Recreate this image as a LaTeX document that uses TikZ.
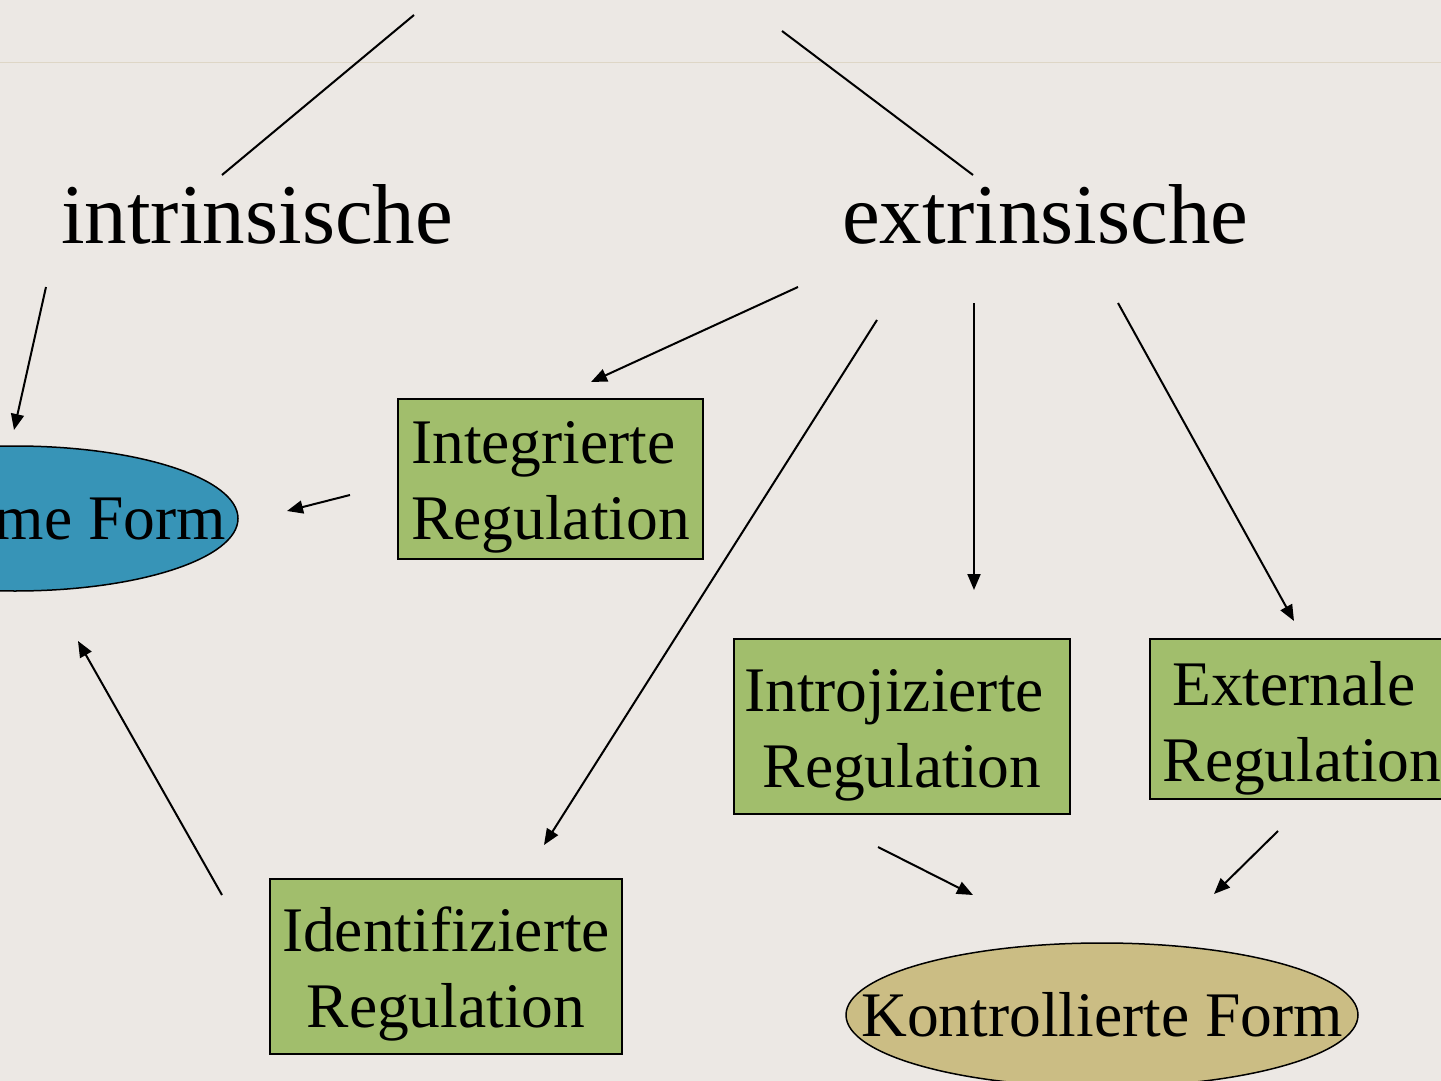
\documentclass[tikz,border=0pt]{standalone}
\usepackage{fontspec}
\setmainfont{Liberation Serif}
\usetikzlibrary{shapes.geometric,arrows.meta}
\definecolor{bgc}{RGB}{236,232,228}
\definecolor{rulec}{RGB}{222,214,198}
\definecolor{greenc}{RGB}{161,190,108}
\definecolor{bluec}{RGB}{55,148,183}
\definecolor{tanc}{RGB}{203,189,132}
\newcommand{\boxtext}[3]{\smash{\raisebox{#1}{\begin{tabular}[t]{@{}#2@{}}#3\end{tabular}}}}
\newcommand{\elltext}[1]{\makebox[0pt]{\smash{\raisebox{-21pt}{#1}}}}
\begin{document}
\begin{tikzpicture}[x=1pt,y=-1pt,
  regbox/.style={draw=black, line width=2pt, fill=greenc, inner sep=0pt, font=\fontsize{63.5}{76}\selectfont},
  formell/.style={ellipse, draw=black, line width=1.5pt, inner sep=0pt, font=\fontsize{63.5}{76}\selectfont},
  toplabel/.style={anchor=base west, inner sep=0pt, font=\fontsize{85}{100}\selectfont},
  conn/.style={line width=2pt},
  arr/.style={conn, -{Triangle[length=16pt,width=13pt]}}]
\useasboundingbox (0,0) rectangle (1441,1081);
\clip (0,0) rectangle (1441,1081);
\fill[bgc] (0,0) rectangle (1441,1081);
\draw[rulec, line width=1.5pt] (0,62.5) -- (1441,62.5);

% labels
\node[toplabel] (intr) at (61,243) {intrinsische};
\node[toplabel] (extr) at (842,243) {extrinsische};

% ellipses
\node[formell, fill=bluec, minimum width=446pt, minimum height=145pt] (auto) at (15,518.5) {\elltext{Autonome Form}};
\node[formell, fill=tanc, minimum width=512pt, minimum height=144pt] (kontr) at (1102,1015) {\elltext{Kontrollierte Form}};

% boxes
\node[regbox, minimum width=305pt, minimum height=160pt] (integ) at (550.5,479) {\boxtext{16pt}{l}{Integrierte\\Regulation}};
\node[regbox, minimum width=336pt, minimum height=175pt] (introj) at (902,726.5) {\boxtext{15.5pt}{c}{Introjizierte\hspace*{16pt}\\Regulation}};
\node[regbox, minimum width=352pt, minimum height=175pt] (ident) at (446,966.5) {\boxtext{15.5pt}{c}{Identifizierte\\Regulation}};
\node[regbox, minimum width=305pt, minimum height=160pt] (extern) at (1302,719) {\boxtext{14pt}{c}{Externale\hspace*{16pt}\\Regulation}};

% connector end points
\coordinate (topL) at (414,15);
\coordinate (intrTop) at (222,175);
\coordinate (topR) at (782,31);
\coordinate (extrTop) at (973,175);
\coordinate (intrOut) at (46,287);
\coordinate (autoIn) at (14,430);
\coordinate (integOut) at (350,495);
\coordinate (autoInR) at (287,511);
\coordinate (extrOutA) at (798,287);
\coordinate (integIn) at (591,382);
\coordinate (extrOutB) at (877,320);
\coordinate (identIn) at (544,845);
\coordinate (extrOutC) at (974,303);
\coordinate (introjIn) at (974,590);
\coordinate (extrOutD) at (1118,303);
\coordinate (externIn) at (1294,621);
\coordinate (identOut) at (222,895);
\coordinate (autoInB) at (78,641);
\coordinate (introjOut) at (878,847);
\coordinate (kontrInL) at (973,895);
\coordinate (externOut) at (1278,831);
\coordinate (kontrInR) at (1214,894);

\draw[conn] (topL) -- (intrTop);
\draw[conn] (topR) -- (extrTop);
\draw[arr] (intrOut) -- (autoIn);
\draw[arr] (integOut) -- (autoInR);
\draw[arr] (extrOutA) -- (integIn);
\draw[arr] (extrOutB) -- (identIn);
\draw[arr] (extrOutC) -- (introjIn);
\draw[arr] (extrOutD) -- (externIn);
\draw[arr] (identOut) -- (autoInB);
\draw[arr] (introjOut) -- (kontrInL);
\draw[arr] (externOut) -- (kontrInR);
\end{tikzpicture}
\end{document}
